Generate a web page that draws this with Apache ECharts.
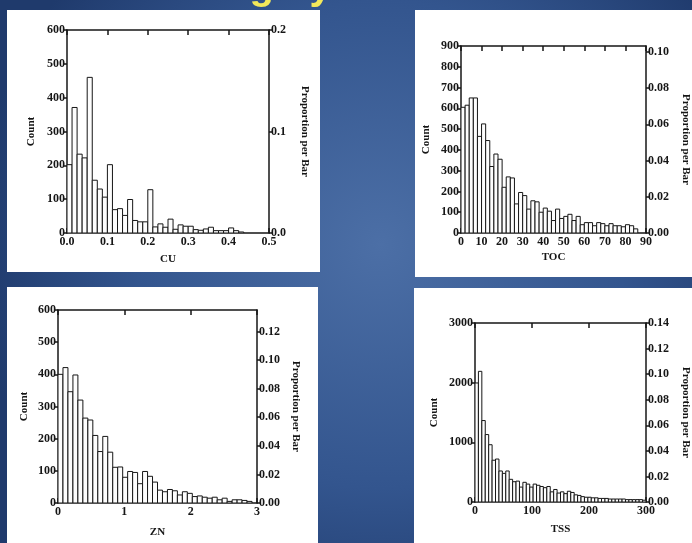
<!DOCTYPE html>
<html>
<head>
<meta charset="utf-8">
<title>Histograms</title>
<script src="https://cdn.jsdelivr.net/npm/echarts@6/dist/echarts.min.js"></script>
<style>
html,body{margin:0;padding:0;background:#2b4a82;}
#main{width:692px;height:543px;}
</style>
</head>
<body>
<div id="main"></div>
<script>
// CU 直方图
var cuBinWidth = 0.0125;
var cuCounts = [202, 371, 233, 222, 460, 156, 130, 106,
                202, 69, 72, 52, 99, 37, 33, 33,
                128, 18, 27, 17, 41, 11, 24, 20,
                20, 10, 8, 12, 17, 7, 7, 7,
                15, 7, 3];
var cuPropMax = 0.2;

// TOC 直方图
var tocBinWidth = 2;
var tocCounts = [605, 615, 650, 650, 465, 525, 445, 320, 380, 355,
                 220, 270, 265, 140, 195, 180, 115, 155, 150, 100,
                 120, 105, 60, 115, 70, 80, 90, 60, 80, 40,
                 50, 50, 35, 50, 45, 35, 45, 35, 35, 30,
                 40, 35, 20];
var tocPropMax = 0.1033;

// ZN 直方图
var znBinWidth = 0.075;
var znCounts = [400, 421, 346, 398, 320, 264, 258, 210, 160, 207,
                158, 111, 112, 80, 98, 95, 60, 98, 83, 65,
                40, 35, 42, 38, 25, 35, 30, 20, 22, 18,
                15, 18, 10, 15, 5, 10, 10, 8, 5];
var znPropMax = 0.135;

// TSS 直方图
var tssBinWidth = 6;
var tssCounts = [1995, 2190, 1365, 1130, 960, 700, 720, 520, 480, 520,
                 380, 340, 350, 250, 330, 300, 250, 300, 280, 260,
                 240, 260, 170, 210, 150, 170, 140, 180, 160, 120,
                 110, 90, 80, 80, 70, 70, 60, 60, 60, 50,
                 50, 50, 50, 50, 40, 40, 40, 40, 40, 30];
var tssPropMax = 0.14;

var FONT = 'Liberation Serif';
var INK = '#161616';

// 四个面板的布局
var panels = [
    {name: 'CU', counts: cuCounts, bin: cuBinWidth, xMax: 0.5, xStep: 0.1, xDigits: 1,
     yMax: 600, yStep: 100, pMax: cuPropMax, pStep: 0.1, pDigits: 1,
     box: [7, 10, 313, 262], grid: [67, 30, 202, 203], gaps: [21, 30, 30]},
    {name: 'TOC', counts: tocCounts, bin: tocBinWidth, xMax: 90, xStep: 10, xDigits: 0,
     yMax: 900, yStep: 100, pMax: tocPropMax, pStep: 0.02, pDigits: 2,
     box: [415, 10, 277, 267], grid: [461, 46, 187, 187], gaps: [19, 29, 34]},
    {name: 'ZN', counts: znCounts, bin: znBinWidth, xMax: 3, xStep: 1, xDigits: 0,
     yMax: 600, yStep: 100, pMax: znPropMax, pStep: 0.02, pDigits: 2,
     box: [7, 287, 311, 256], grid: [58, 310, 199, 193], gaps: [24, 28, 33]},
    {name: 'TSS', counts: tssCounts, bin: tssBinWidth, xMax: 300, xStep: 100, xDigits: 0,
     yMax: 3000, yStep: 1000, pMax: tssPropMax, pStep: 0.02, pDigits: 2,
     box: [414, 288, 278, 255], grid: [475, 323, 175, 179], gaps: [22, 35, 34]}
];

function histItem(bin) {
    return function(params, api) {
        var x0 = api.value(0);
        var c = api.value(1);
        var p0 = api.coord([x0, c]);
        var p1 = api.coord([x0 + bin, 0]);
        return {
            type: 'rect',
            shape: {x: p0[0], y: p0[1], width: p1[0] - p0[0], height: p1[1] - p0[1]},
            style: {fill: '#fdfdfd', stroke: INK, lineWidth: 1}
        };
    };
}

function $ext(a, b) {
    var o = {};
    for (var k in a) o[k] = a[k];
    for (var k2 in b) o[k2] = b[k2];
    return o;
}

var labelStyle = {color: INK, fontFamily: FONT, fontSize: 12, fontWeight: 'bold'};
var nameStyle = {color: INK, fontFamily: FONT, fontSize: 11, fontWeight: 'bold'};
var lineStyle = {color: INK, width: 1.5};

var option = {
    backgroundColor: {
        type: 'radial', x: 0.55, y: 0.45, r: 0.75,
        colorStops: [
            {offset: 0, color: '#4c6fa6'},
            {offset: 0.6, color: '#33558e'},
            {offset: 1, color: '#1f3a6c'}
        ]
    },
    animation: false,
    grid: [], xAxis: [], yAxis: [], series: [],
    graphic: {elements: []}
};

// 标题（只露出下半部分）
option.graphic.elements.push({
    type: 'text', left: 45, top: -32, z: -5,
    style: {text: 'Data are highly skewed', fill: '#f3e85a', font: 'bold 40px "Liberation Sans"'}
});

panels.forEach(function(p, i) {
    option.graphic.elements.push({
        type: 'rect', z: -10,
        shape: {x: p.box[0], y: p.box[1], width: p.box[2], height: p.box[3]},
        style: {fill: '#ffffff'}
    });
    option.grid.push({left: p.grid[0], top: p.grid[1], width: p.grid[2], height: p.grid[3]});

    var xFmt = function(v) { return v.toFixed(p.xDigits); };
    var yFmt = function(v) { return String(v); };
    var pFmt = function(v) { return v.toFixed(p.pDigits); };
    var pWhole = Math.abs(p.pMax / p.pStep - Math.round(p.pMax / p.pStep)) < 1e-6;

    option.xAxis.push({
        gridIndex: i, type: 'value', min: 0, max: p.xMax, interval: p.xStep, position: 'bottom',
        axisLine: {onZero: false, lineStyle: lineStyle},
        axisTick: {inside: true, length: 5, lineStyle: lineStyle},
        axisLabel: $ext(labelStyle, {formatter: xFmt, margin: 3, showMaxLabel: true}),
        splitLine: {show: false},
        name: p.name, nameLocation: 'middle', nameGap: p.gaps[0], nameTextStyle: nameStyle
    });
    option.xAxis.push({
        gridIndex: i, type: 'value', min: 0, max: p.xMax, interval: p.xStep, position: 'top',
        axisLine: {onZero: false, lineStyle: lineStyle},
        axisTick: {inside: true, length: 5, lineStyle: lineStyle},
        axisLabel: {show: false}, splitLine: {show: false}
    });
    option.yAxis.push({
        gridIndex: i, type: 'value', min: 0, max: p.yMax, interval: p.yStep, position: 'left',
        axisLine: {show: true, onZero: false, lineStyle: lineStyle},
        axisTick: {show: true, inside: false, length: 4, lineStyle: lineStyle},
        axisLabel: $ext(labelStyle, {formatter: yFmt, margin: 2}),
        splitLine: {show: false},
        name: 'Count', nameLocation: 'middle', nameGap: p.gaps[1], nameRotate: 90, nameTextStyle: nameStyle
    });
    option.yAxis.push({
        gridIndex: i, type: 'value', min: 0, max: p.pMax, interval: p.pStep, position: 'right',
        axisLine: {show: true, onZero: false, lineStyle: lineStyle},
        axisTick: {show: true, inside: false, length: 4, lineStyle: lineStyle},
        axisLabel: $ext(labelStyle, {formatter: pFmt, margin: 2, showMaxLabel: pWhole}),
        splitLine: {show: false},
        name: 'Proportion per Bar', nameLocation: 'middle', nameGap: p.gaps[2], nameRotate: -90, nameTextStyle: nameStyle
    });

    var data = p.counts.map(function(c, k) { return [k * p.bin, c]; });
    option.series.push({
        type: 'custom', xAxisIndex: i * 2, yAxisIndex: i * 2, clip: true,
        renderItem: histItem(p.bin), data: data
    });
});

var myChart = echarts.init(document.getElementById('main'), null, {renderer: 'canvas'});
myChart.setOption(option);
</script>
</body>
</html>
